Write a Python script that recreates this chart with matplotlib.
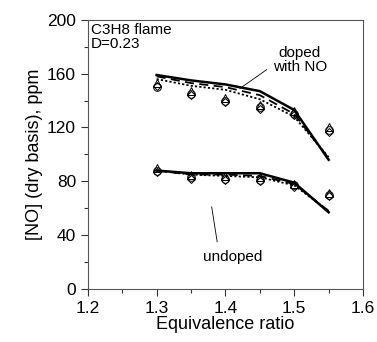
import numpy as np
import matplotlib.pyplot as plt
from matplotlib.ticker import MultipleLocator

plt.rcParams['font.family'] = ['Liberation Sans', 'DejaVu Sans']

phi = [1.3, 1.35, 1.4, 1.45, 1.5, 1.55]

# experiments
doped_circ = [150, 145, 140, 135, 130, 118]
doped_tri = [153, 147, 142, 137, 132, 120]
doped_dia = [151, 144, 139, 134, 129, 117]
undoped_circ = [88, 83, 82, 81, 77, 70]
undoped_tri = [90, 85, 84, 83, 78, 71]
undoped_dia = [87, 82, 81, 80, 76, 69]

# models
doped_solid = [159, 155, 152, 147, 133, 96]
doped_dash = [158, 153, 150, 144, 130, 97]
doped_dot = [156, 151, 148, 141, 128, 98]
undoped_solid = [88, 86, 86, 86, 79, 57]
undoped_dash = [88, 85, 85, 84, 78, 58]
undoped_dot = [88, 85, 84, 83, 77, 58]

fig = plt.figure(figsize=(3.77, 3.42), dpi=100)
ax = fig.add_axes([0.233, 0.155, 0.73, 0.787])

ax.plot(phi, doped_solid, color='black', lw=1.8)
ax.plot(phi, doped_dash, color='black', lw=1.3, ls=(0, (5, 3)))
ax.plot(phi, doped_dot, color='black', lw=1.3, ls=(0, (1.2, 1.2)))
ax.plot(phi, undoped_solid, color='black', lw=1.8)
ax.plot(phi, undoped_dash, color='black', lw=1.3, ls=(0, (5, 3)))
ax.plot(phi, undoped_dot, color='black', lw=1.3, ls=(0, (1.2, 1.2)))

for ys, m, sz in [(doped_circ, 'o', 5.5), (doped_tri, '^', 5.5), (doped_dia, 'D', 4.5),
                  (undoped_circ, 'o', 5.5), (undoped_tri, '^', 5.5), (undoped_dia, 'D', 4.5)]:
    ax.plot(phi, ys, ls='none', marker=m, ms=sz, mfc='none', mec='black', mew=0.7)

ax.set_xlim(1.2, 1.6)
ax.set_ylim(0, 200)
ax.xaxis.set_major_locator(MultipleLocator(0.1))
ax.xaxis.set_minor_locator(MultipleLocator(0.05))
ax.yaxis.set_major_locator(MultipleLocator(40))
ax.yaxis.set_minor_locator(MultipleLocator(20))
ax.xaxis.set_major_formatter(plt.FuncFormatter(lambda v, p: f'{v:.1f}'))
ax.tick_params(which='both', direction='out', labelsize=12.5, width=0.8, colors='#333333', labelcolor='black')
ax.tick_params(which='major', length=5)
ax.tick_params(which='minor', length=3)
for s in ax.spines.values():
    s.set_linewidth(0.8)
    s.set_color('#555555')

ax.set_xlabel('Equivalence ratio', fontsize=13, labelpad=0)
ax.set_ylabel('[NO] (dry basis), ppm', fontsize=13, labelpad=3)

ax.text(0.01, 0.99, 'C3H8 flame\nD=0.23', transform=ax.transAxes, ha='left', va='top',
        fontsize=11, linespacing=1.0)
ax.text(1.508, 170, 'doped\nwith NO', ha='center', va='center', fontsize=11, linespacing=1.0)
ax.plot([1.460, 1.421], [163, 149], color='black', lw=0.6)
ax.text(1.41, 24, 'undoped', ha='center', va='center', fontsize=11)
ax.plot([1.380, 1.388], [61, 35], color='black', lw=0.6)

fig.savefig('out.png', dpi=100)
